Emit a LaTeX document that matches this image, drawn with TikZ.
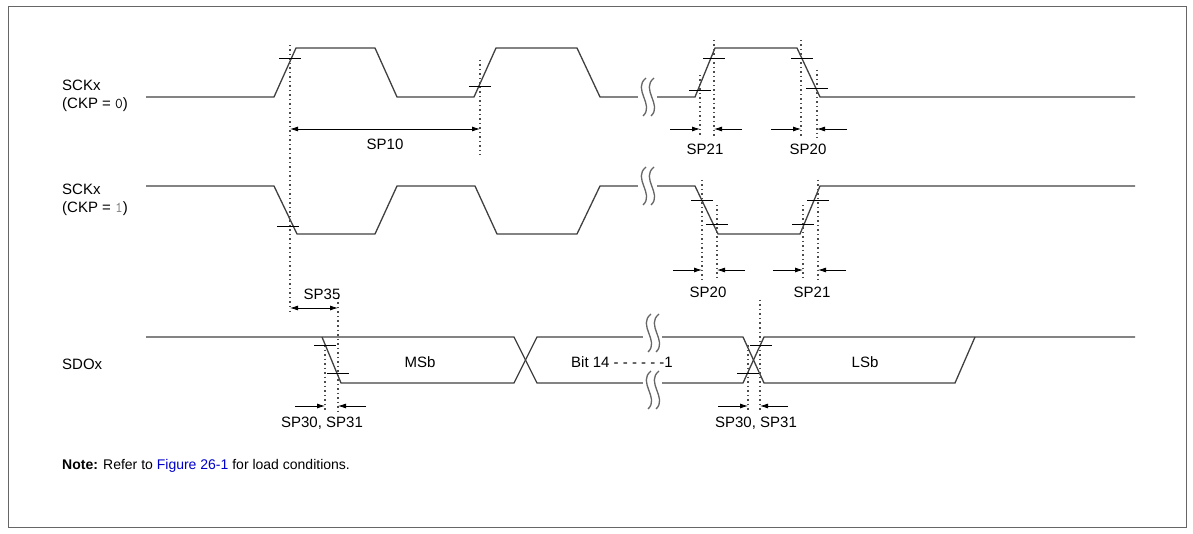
\documentclass[tikz,border=0pt]{standalone}
\usepackage{fontspec}
\setmainfont{Liberation Sans}
\usetikzlibrary{arrows.meta}
\begin{document}
\begin{tikzpicture}[x=1pt,y=-1pt,
  wave/.style={draw=black!75,line width=1.3pt},
  dot/.style={draw=black!70,dash pattern=on 1.5pt off 3pt,line width=1.2pt},
  tk/.style={draw=black,line width=0.8pt},
  arr/.style={draw=black,line width=0.8pt,-{Latex[length=8pt,width=5pt]}},
  lbl/.style={font=\fontsize{15}{18}\selectfont,inner sep=0pt},
  brk/.style={draw=black!60,line width=1.3pt}]
\useasboundingbox (0,0) rectangle (1193,534);
\draw[black!60,line width=0.8pt] (8,6) rectangle (1186,527);
\def\sq#1#2{\fill[white] (#1-5,#2-17) rectangle (#1+14,#2+17);
 \draw[brk] (#1+3,#2-19) .. controls (#1-11,#2-8) and (#1+12,#2+8) .. (#1,#2+19);
 \draw[brk] (#1+11,#2-19) .. controls (#1-3,#2-8) and (#1+20,#2+8) .. (#1+8,#2+19);}
% labels
\node[lbl,anchor=west,align=left] (l0) at (62,96) {SCKx\\(CKP = {\ttfamily 0})};
\node[lbl,anchor=west,align=left] (l1) at (62,200) {SCKx\\(CKP = {\ttfamily\color{black!50}1})};
\node[lbl,anchor=west] (l2) at (62,364) {SDOx};
\node[lbl,anchor=west,font=\fontsize{14}{16}\selectfont] (note) at (62,466) {\textbf{Note:} Refer to {\color{blue!80!black}Figure 26-1} for load conditions.};
% SCK CKP=0
\draw[wave] (146,97)--(274,97)--(296,48)--(375,48)--(397,97)--(474,97)--(496,48)--(577,48)--(600,97)--(695,97)--(715,48)--(797,48)--(820,97)--(1135,97);
\sq{643}{97}
% SCK CKP=1
\draw[wave] (146,186)--(274,186)--(297,234)--(375,234)--(397,186)--(475,186)--(497,234)--(577,234)--(600,186)--(695,186)--(718,234)--(800,234)--(820,186)--(1135,186);
\sq{643}{186}
% SDO
\draw[wave] (146,337)--(514,337)--(537,383)--(743,383)--(764,337)--(1135,337);
\draw[wave] (322,337)--(341,383)--(514,383)--(537,337)--(743,337)--(764,383)--(955,383)--(975,337);
\sq{648}{333}
\sq{648}{390}
\node[lbl] (msb) at (420,362) {MSb};
\node[lbl,fill=white,inner sep=1pt] (bit) at (622,362) {Bit 14 - - - - - -1};
\node[lbl] (lsb) at (865,362) {LSb};
% dotted verticals
\draw[dot] (290,45)--(290,315);
\draw[dot] (480,60)--(480,155);
\draw[dot] (700,75)--(700,138); \draw[dot] (714,40)--(714,138);
\draw[dot] (801,40)--(801,138); \draw[dot] (817,70)--(817,138);
\draw[dot] (702,180)--(702,280); \draw[dot] (717,205)--(717,280);
\draw[dot] (803,205)--(803,280); \draw[dot] (818,180)--(818,280);
\draw[dot] (338,298)--(338,412); \draw[dot] (325,345)--(325,412);
\draw[dot] (760,300)--(760,412); \draw[dot] (748,345)--(748,412);
% ticks
\foreach \x/\y in {290/58,480/86,700/90,714/58,802/58,817/88,288/226,702/200,717/224,803/224,818/200,325/345,338/373,761/345,748/373}
  \draw[tk] (\x-11,\y)--(\x+11,\y);
% SP10
\draw[tk,{Latex[length=8pt,width=5pt]}-{Latex[length=8pt,width=5pt]}] (290,129)--(480,129);
\node[lbl] (sp10) at (385,144) {SP10};
% SP21/SP20 top
\draw[arr] (670,129)--(700,129); \draw[arr] (742,129)--(714,129);
\node[lbl] (a) at (705,149) {SP21};
\draw[arr] (771,129)--(801,129); \draw[arr] (847,129)--(817,129);
\node[lbl] (b) at (808,149) {SP20};
% bottom SCK
\draw[arr] (673,270)--(702,270); \draw[arr] (745,270)--(717,270);
\node[lbl] (c) at (708,292) {SP20};
\draw[arr] (773,270)--(803,270); \draw[arr] (846,270)--(818,270);
\node[lbl] (d) at (812,292) {SP21};
% SP35
\draw[tk,{Latex[length=8pt,width=5pt]}-{Latex[length=8pt,width=5pt]}] (290,308)--(338,308);
\node[lbl] (e) at (322,294) {SP35};
% SP30 SP31
\draw[arr] (295,406)--(325,406); \draw[arr] (366,406)--(338,406);
\node[lbl] (f) at (322,423) {SP30, SP31};
\draw[arr] (718,406)--(748,406); \draw[arr] (788,406)--(760,406);
\node[lbl] (g) at (756,423) {SP30, SP31};
\end{tikzpicture}
\end{document}
